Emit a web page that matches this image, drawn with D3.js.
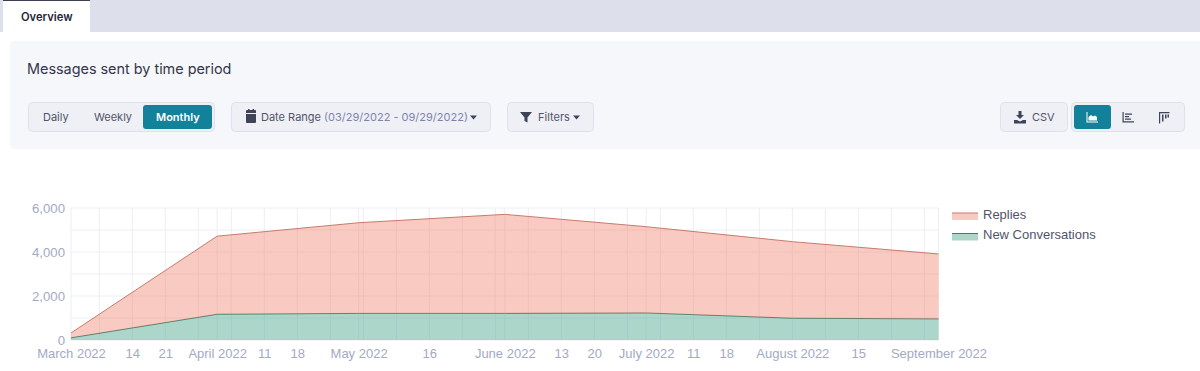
<!DOCTYPE html>
<html>
<head>
<meta charset="utf-8">
<title>Messages sent by time period</title>
<script src="https://cdn.jsdelivr.net/npm/d3@7"></script>
<style>
  html, body { margin: 0; padding: 0; background: #fff; overflow: hidden; }
  svg { display: block; }
  .ui { font-family: Inter, "Noto Sans", sans-serif; }
  .plot text { font-family: "Liberation Sans", Arial, sans-serif; }
  .axis path, .axis line { display: none; }
</style>
</head>
<body>
<div class="canvas"></div>
<script>
// data
const months = ['2022-03-01', '2022-04-01', '2022-05-01', '2022-06-01', '2022-07-01', '2022-08-01', '2022-09-01'];
const newConversations = [100, 1170, 1210, 1210, 1230, 990, 960];
const replies = [220, 3550, 4120, 4500, 3920, 3480, 2950];
const seriesNames = ['New Conversations', 'Replies'];

const yTicks = [0, 2000, 4000, 6000];
const yGrid = [0, 1000, 2000, 3000, 4000, 5000, 6000];
const xGrid = ['2022-03-07', '2022-03-14', '2022-03-21', '2022-03-28', '2022-04-01', '2022-04-04', '2022-04-11',
  '2022-04-18', '2022-04-25', '2022-05-01', '2022-05-02', '2022-05-09', '2022-05-16', '2022-05-23', '2022-05-30',
  '2022-06-01', '2022-06-06', '2022-06-13', '2022-06-20', '2022-06-27', '2022-07-01', '2022-07-04', '2022-07-11',
  '2022-07-18', '2022-07-25', '2022-08-01', '2022-08-08', '2022-08-15', '2022-08-22', '2022-08-29'];
const xTickDates = ['2022-03-01', '2022-03-14', '2022-03-21', '2022-04-01', '2022-04-11', '2022-04-18', '2022-05-01',
  '2022-05-16', '2022-06-01', '2022-06-13', '2022-06-20', '2022-07-01', '2022-07-11', '2022-07-18', '2022-08-01',
  '2022-08-15', '2022-09-01'];
const xTickLabels = ['March 2022', '14', '21', 'April 2022', '11', '18', 'May 2022', '16', 'June 2022', '13', '20',
  'July 2022', '11', '18', 'August 2022', '15', 'September 2022'];

const parse = d3.utcParse('%Y-%m-%d');

const colours = {
  'Replies': { fill: 'rgba(240,128,108,0.42)', line: '#c9796a' },
  'New Conversations': { fill: 'rgba(74,165,140,0.45)', line: '#3f7f6c' }
};

const svg = d3.select('.canvas')
  .append('svg')
  .attr('width', 1200)
  .attr('height', 371);

// page chrome
const ui = svg.append('g').attr('class', 'ui');

ui.append('rect').attr('x', 0).attr('y', 0).attr('width', 1200).attr('height', 32).attr('fill', '#dde0ea');
ui.append('rect').attr('x', 3).attr('y', 0).attr('width', 87).attr('height', 32).attr('fill', '#fff');
ui.append('rect').attr('x', 3).attr('y', 0).attr('width', 87).attr('height', 1).attr('fill', '#3a3f55');
ui.append('text').attr('x', 21).attr('y', 21).attr('font-size', 11.2).attr('font-weight', 600)
  .attr('fill', '#23263a').text('Overview');

ui.append('rect').attr('x', 10).attr('y', 41).attr('width', 1200).attr('height', 108).attr('rx', 4).attr('fill', '#f6f7fa');
ui.append('text').attr('x', 27).attr('y', 74).attr('font-size', 14.4).attr('fill', '#33364a')
  .text('Messages sent by time period');

const button = (x, w) => ui.append('rect')
  .attr('x', x + 0.5).attr('y', 102.5).attr('width', w).attr('height', 29).attr('rx', 4)
  .attr('fill', '#eff0f5').attr('stroke', '#dfe1ea');

const label = (x, text, fill, weight) => ui.append('text')
  .attr('x', x).attr('y', 121).attr('font-size', 11).attr('font-weight', weight || 400)
  .attr('fill', fill).text(text);

const active = (x, w) => ui.append('rect')
  .attr('x', x).attr('y', 105).attr('width', w).attr('height', 24).attr('rx', 3).attr('fill', '#12829b');

const caret = (x) => ui.append('path')
  .attr('d', `M${x},115.5h7l-3.5,4z`).attr('fill', '#3f4358');

// Daily / Weekly / Monthly
button(28, 186);
active(143, 69);
label(43, 'Daily', '#50546a');
label(94, 'Weekly', '#50546a');
label(156, 'Monthly', '#fff', 600);

// date range
button(231, 259);
ui.append('path').attr('d', 'M246,114h10v8a1,1 0 0 1 -1,1h-8a1,1 0 0 1 -1,-1z M246,113v-2a1,1 0 0 1 1,-1h1v-1h1.5v1h3v-1h1.5v1h1a1,1 0 0 1 1,1v2z')
  .attr('fill', '#3f4358');
const dateLabel = label(261, 'Date Range ', '#50546a');
dateLabel.append('tspan').attr('fill', '#7d84ac').text('(03/29/2022 - 09/29/2022)');
caret(470);

// filters
button(507, 86);
ui.append('path').attr('d', 'M520,112h12l-4.5,5.5v5l-3,-1.5v-3.5z').attr('fill', '#3f4358');
label(538, 'Filters', '#50546a');
caret(573);

// CSV
button(1000, 67);
ui.append('path').attr('d', 'M1018.5,111h3v4h2.5l-4,4l-4,-4h2.5z M1014,120h3l3,1.5l3,-1.5h3v3.5h-12z').attr('fill', '#3f4358');
label(1032, 'CSV', '#50546a');

// chart type buttons
button(1071, 113);
active(1074, 37);
ui.append('path').attr('d', 'M1086.5,112v10.5h11.5v-1h-10.5v-9.5z M1088.5,120.5v-3.5l2.5,-2l2,1.5l2,-1l2,1.5v3.5z').attr('fill', '#fff');
ui.append('path').attr('d', 'M1122.5,112v10.5h11.5v-1.2h-10.3v-9.3z M1125,118.5h6v1.3h-6z M1125,116h4v1.3h-4z M1125,113.5h7v1.3h-7z').attr('fill', '#3f4358');
ui.append('path').attr('d', 'M1159,112h10.5v1.2h-9.3v10.3h-1.2z M1162,114.5h1.5v7h-1.5z M1165,114.5h1.5v4h-1.5z M1167.5,114.5h1.5v3h-1.5z').attr('fill', '#3f4358');

// chart
const x = d3.scaleUtc()
  .domain(d3.extent(months, parse))
  .range([71, 938.5]);

const y = d3.scaleLinear()
  .domain([0, 6000])
  .range([340, 208]);

const rows = months.map((m, i) => ({
  date: parse(m),
  'New Conversations': newConversations[i],
  'Replies': replies[i]
}));

const stacked = d3.stack().keys(seriesNames)(rows);

const plot = svg.append('g').attr('class', 'plot');

// grid
plot.append('g').selectAll('line')
  .data(yGrid)
  .join('line')
    .attr('x1', x.range()[0]).attr('x2', x.range()[1])
    .attr('y1', d => y(d)).attr('y2', d => y(d))
    .attr('stroke', '#eceef3');

plot.append('g').selectAll('line')
  .data(xGrid.concat(xTickDates[0], xTickDates[xTickDates.length - 1]))
  .join('line')
    .attr('x1', d => x(parse(d))).attr('x2', d => x(parse(d)))
    .attr('y1', y(0)).attr('y2', y(6000))
    .attr('stroke', '#eceef3');

// areas
const area = d3.area()
  .x(d => x(d.data.date))
  .y0(d => y(d[0]))
  .y1(d => y(d[1]));

const topLine = d3.line()
  .x(d => x(d.data.date))
  .y(d => y(d[1]));

stacked.forEach(s => {
  plot.append('path').attr('d', area(s)).attr('fill', colours[s.key].fill);
  plot.append('path').attr('d', topLine(s)).attr('fill', 'none')
    .attr('stroke', colours[s.key].line).attr('stroke-width', 1);
});

// axes
const xAxis = d3.axisBottom(x)
  .tickValues(xTickDates.map(parse))
  .tickFormat((d, i) => xTickLabels[i])
  .tickSize(0)
  .tickPadding(9);

plot.append('g')
  .attr('class', 'axis')
  .attr('transform', `translate(0, ${y(0)})`)
  .call(xAxis)
  .call(g => g.selectAll('text').attr('font-size', 13).attr('fill', '#a4a9c4'));

const yAxis = d3.axisLeft(y)
  .tickValues(yTicks)
  .tickFormat(d3.format(','))
  .tickSize(0)
  .tickPadding(5);

plot.append('g')
  .attr('class', 'axis')
  .attr('transform', `translate(${x.range()[0] - 1}, 0)`)
  .call(yAxis)
  .call(g => g.selectAll('text').attr('font-size', 13.2).attr('fill', '#a4a9c4'));

// legend
const legend = plot.append('g').selectAll('g')
  .data(['Replies', 'New Conversations'])
  .join('g')
    .attr('transform', (d, i) => `translate(952, ${213 + i * 20.5})`);

legend.append('rect')
  .attr('x', 0).attr('y', 0).attr('width', 26).attr('height', 7)
  .attr('fill', d => colours[d].fill);

legend.append('line')
  .attr('x1', 0).attr('x2', 26).attr('y1', 0).attr('y2', 0)
  .attr('stroke', d => colours[d].line);

legend.append('text')
  .attr('x', 31).attr('y', 5.5)
  .attr('font-size', 13).attr('fill', '#50546a')
  .text(d => d);
</script>
</body>
</html>
